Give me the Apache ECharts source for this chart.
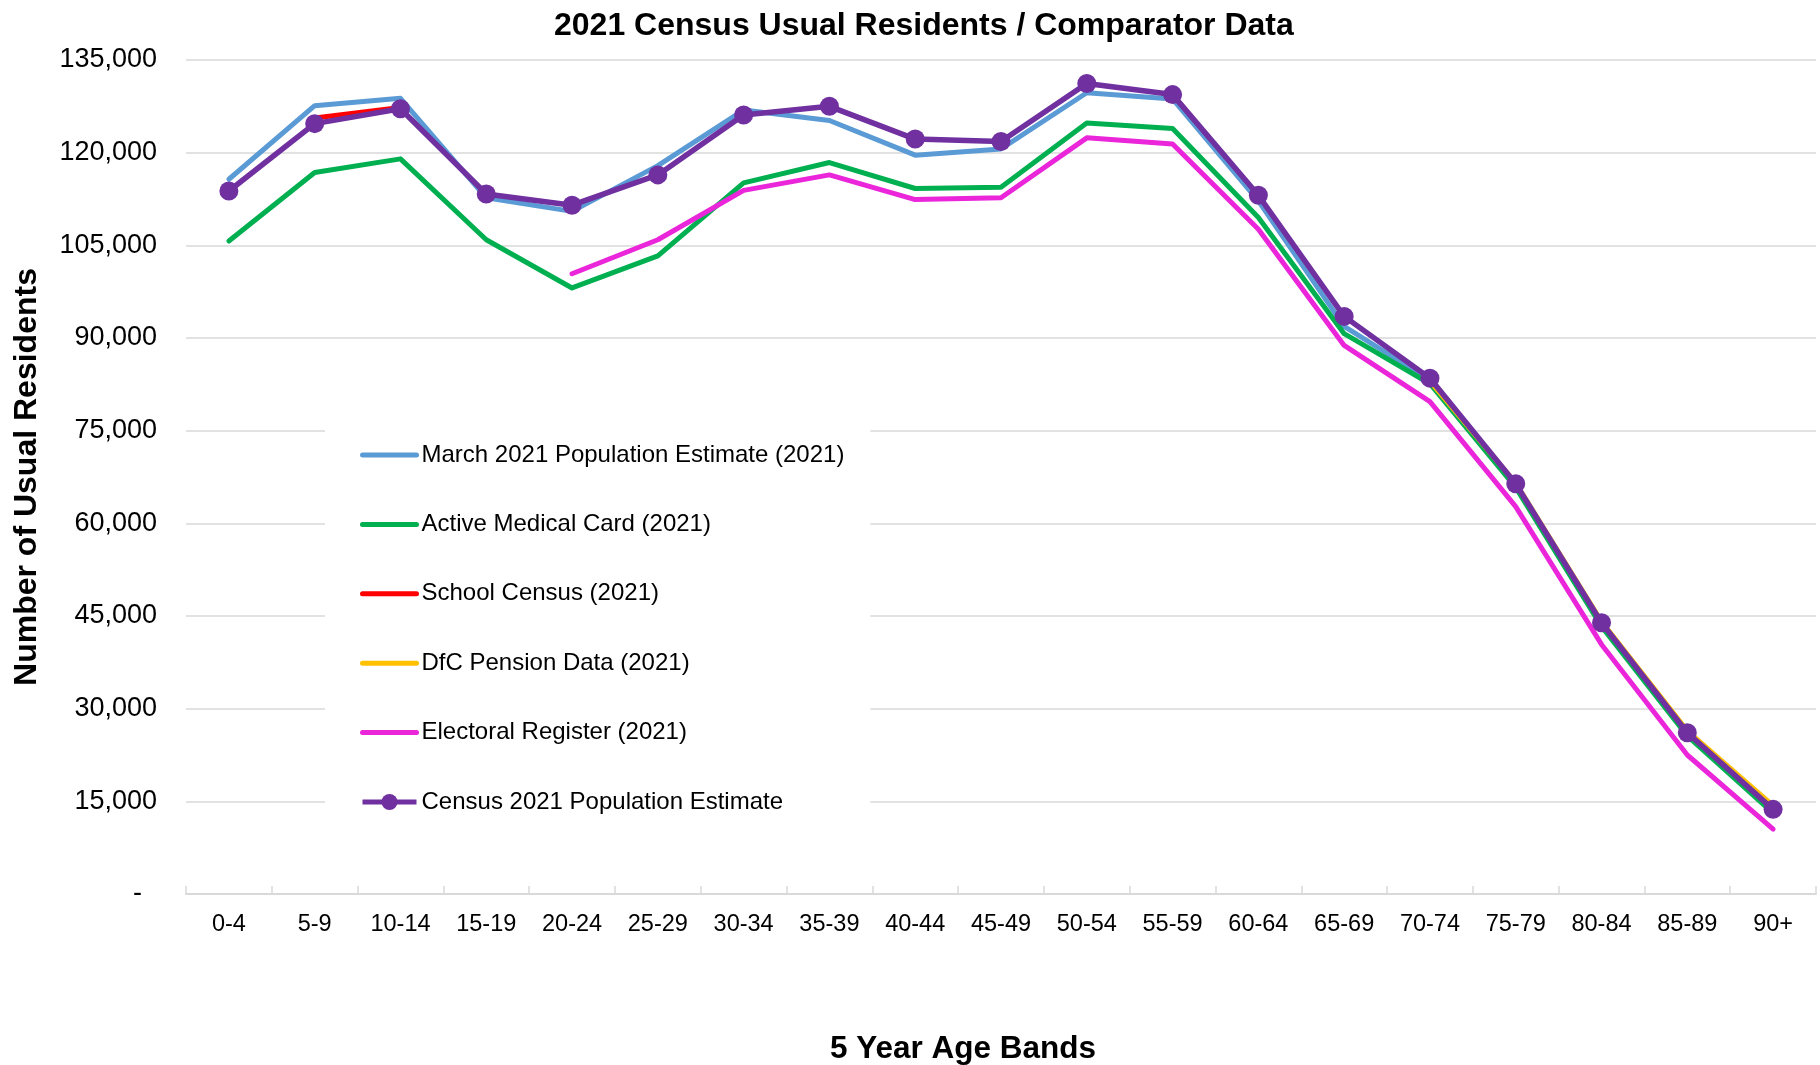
<!DOCTYPE html>
<html>
<head>
<meta charset="utf-8">
<title>2021 Census Usual Residents / Comparator Data</title>
<script src="https://cdn.jsdelivr.net/npm/echarts@6/dist/echarts.min.js"></script>
<style>
  html, body { margin: 0; padding: 0; background: #fff; }
  #chart { width: 1820px; height: 1065px; }
</style>
</head>
<body>
<div id="chart"></div>
<script>
var ageBands = ['0-4', '5-9', '10-14', '15-19', '20-24', '25-29', '30-34', '35-39', '40-44', '45-49',
  '50-54', '55-59', '60-64', '65-69', '70-74', '75-79', '80-84', '85-89', '90+'];

var marchEstimate = [115700, 127600, 128800, 112700, 110500, 117900, 126900, 125200, 119600, 120600,
  129700, 128700, 112200, 91900, 83200, 66200, 43700, 25900, 13400];
var medicalCard = [105700, 116800, 119000, 105900, 98100, 103300, 115100, 118400, 114200, 114400,
  124800, 123900, 109500, 90700, 82600, 65800, 43300, 25600, 13100];
var schoolCensus = [null, 125600, 127300, null, null, null, null, null, null, null,
  null, null, null, null, null, null, null, null, null];
var pensionData = [null, null, null, null, null, null, null, null, null, null,
  null, null, null, null, 83000, 66500, 44100, 26400, 14300];
var electoralRegister = [null, null, null, null, 100400, 105900, 113900, 116400, 112400, 112700,
  122400, 121400, 107600, 88800, 79700, 62700, 40400, 22500, 10500];
var censusEstimate = [113800, 124700, 127100, 113300, 111500, 116400, 126100, 127500, 122200, 121800,
  131200, 129400, 113100, 93500, 83500, 66400, 43900, 26100, 13700];

var yTicks = { min: 0, max: 135000, step: 15000 };

var font = 'Liberation Sans, Arial, sans-serif';

function plainLine(name, data, color) {
  return {
    name: name,
    type: 'line',
    data: data,
    symbol: 'none',
    connectNulls: false,
    lineStyle: { color: color, width: 5, cap: 'round', join: 'round' },
    itemStyle: { color: color }
  };
}

// legend entry that shows only the line, no marker
function lineOnlyItem(name, color) {
  return {
    name: name,
    itemStyle: { opacity: 0 },
    lineStyle: { color: color, width: 5, cap: 'round' }
  };
}

var chart = echarts.init(document.getElementById('chart'));

chart.setOption({
  animation: false,
  backgroundColor: '#fff',
  title: {
    text: '2021 Census Usual Residents / Comparator Data',
    left: 554,
    top: 5,
    padding: [5, 0, 5, 0],
    textStyle: { fontFamily: font, fontSize: 32, fontWeight: 'bold', color: '#000' }
  },
  grid: { left: 186, right: 4, top: 60, bottom: 171, outerBoundsMode: 'none' },
  legend: {
    orient: 'vertical',
    left: 325,
    top: 418,
    padding: [25, 26, 24, 35],
    backgroundColor: '#fff',
    itemWidth: 54,
    itemHeight: 20,
    itemGap: 45.4,
    textStyle: { fontFamily: font, fontSize: 24, lineHeight: 24, color: '#000' },
    data: [
      lineOnlyItem('March 2021 Population Estimate (2021)', '#5b9bd5'),
      lineOnlyItem('Active Medical Card (2021)', '#00b050'),
      lineOnlyItem('School Census (2021)', '#ff0000'),
      lineOnlyItem('DfC Pension Data (2021)', '#ffc000'),
      lineOnlyItem('Electoral Register (2021)', '#ea25da'),
      { name: 'Census 2021 Population Estimate', lineStyle: { color: '#7030a0', width: 5 } }
    ]
  },
  xAxis: {
    type: 'category',
    data: ageBands,
    boundaryGap: true,
    name: '5 Year Age Bands',
    nameLocation: 'middle',
    nameGap: 139,
    nameTextStyle: { fontFamily: font, fontSize: 31.5, fontWeight: 'bold', color: '#000', padding: [0, 76, 0, 0] },
    axisLine: { lineStyle: { color: '#d9d9d9', width: 2 } },
    axisTick: { show: true, inside: true, length: 8, lineStyle: { color: '#d9d9d9', width: 1.5 } },
    axisLabel: { fontFamily: font, fontSize: 23.5, color: '#000', margin: 19, interval: 0 },
    splitLine: { show: false }
  },
  yAxis: {
    type: 'value',
    min: yTicks.min,
    max: yTicks.max,
    interval: yTicks.step,
    name: 'Number of Usual Residents',
    nameLocation: 'middle',
    nameGap: 143,
    nameTextStyle: { fontFamily: font, fontSize: 32, fontWeight: 'bold', color: '#000' },
    axisLine: { show: false },
    axisTick: { show: false },
    axisLabel: {
      fontFamily: font, fontSize: 27, color: '#000', margin: 29,
      formatter: function (v) { return v === 0 ? '-  ' : v.toLocaleString('en-GB'); }
    },
    splitLine: { lineStyle: { color: '#d9d9d9', width: 1.5 } }
  },
  series: [
    plainLine('March 2021 Population Estimate (2021)', marchEstimate, '#5b9bd5'),
    plainLine('Active Medical Card (2021)', medicalCard, '#00b050'),
    plainLine('School Census (2021)', schoolCensus, '#ff0000'),
    plainLine('DfC Pension Data (2021)', pensionData, '#ffc000'),
    plainLine('Electoral Register (2021)', electoralRegister, '#ea25da'),
    {
      name: 'Census 2021 Population Estimate',
      type: 'line',
      data: censusEstimate,
      symbol: 'circle',
      symbolSize: 19,
      lineStyle: { color: '#7030a0', width: 5.5, join: 'round' },
      itemStyle: { color: '#7030a0' }
    }
  ]
});
</script>
</body>
</html>
